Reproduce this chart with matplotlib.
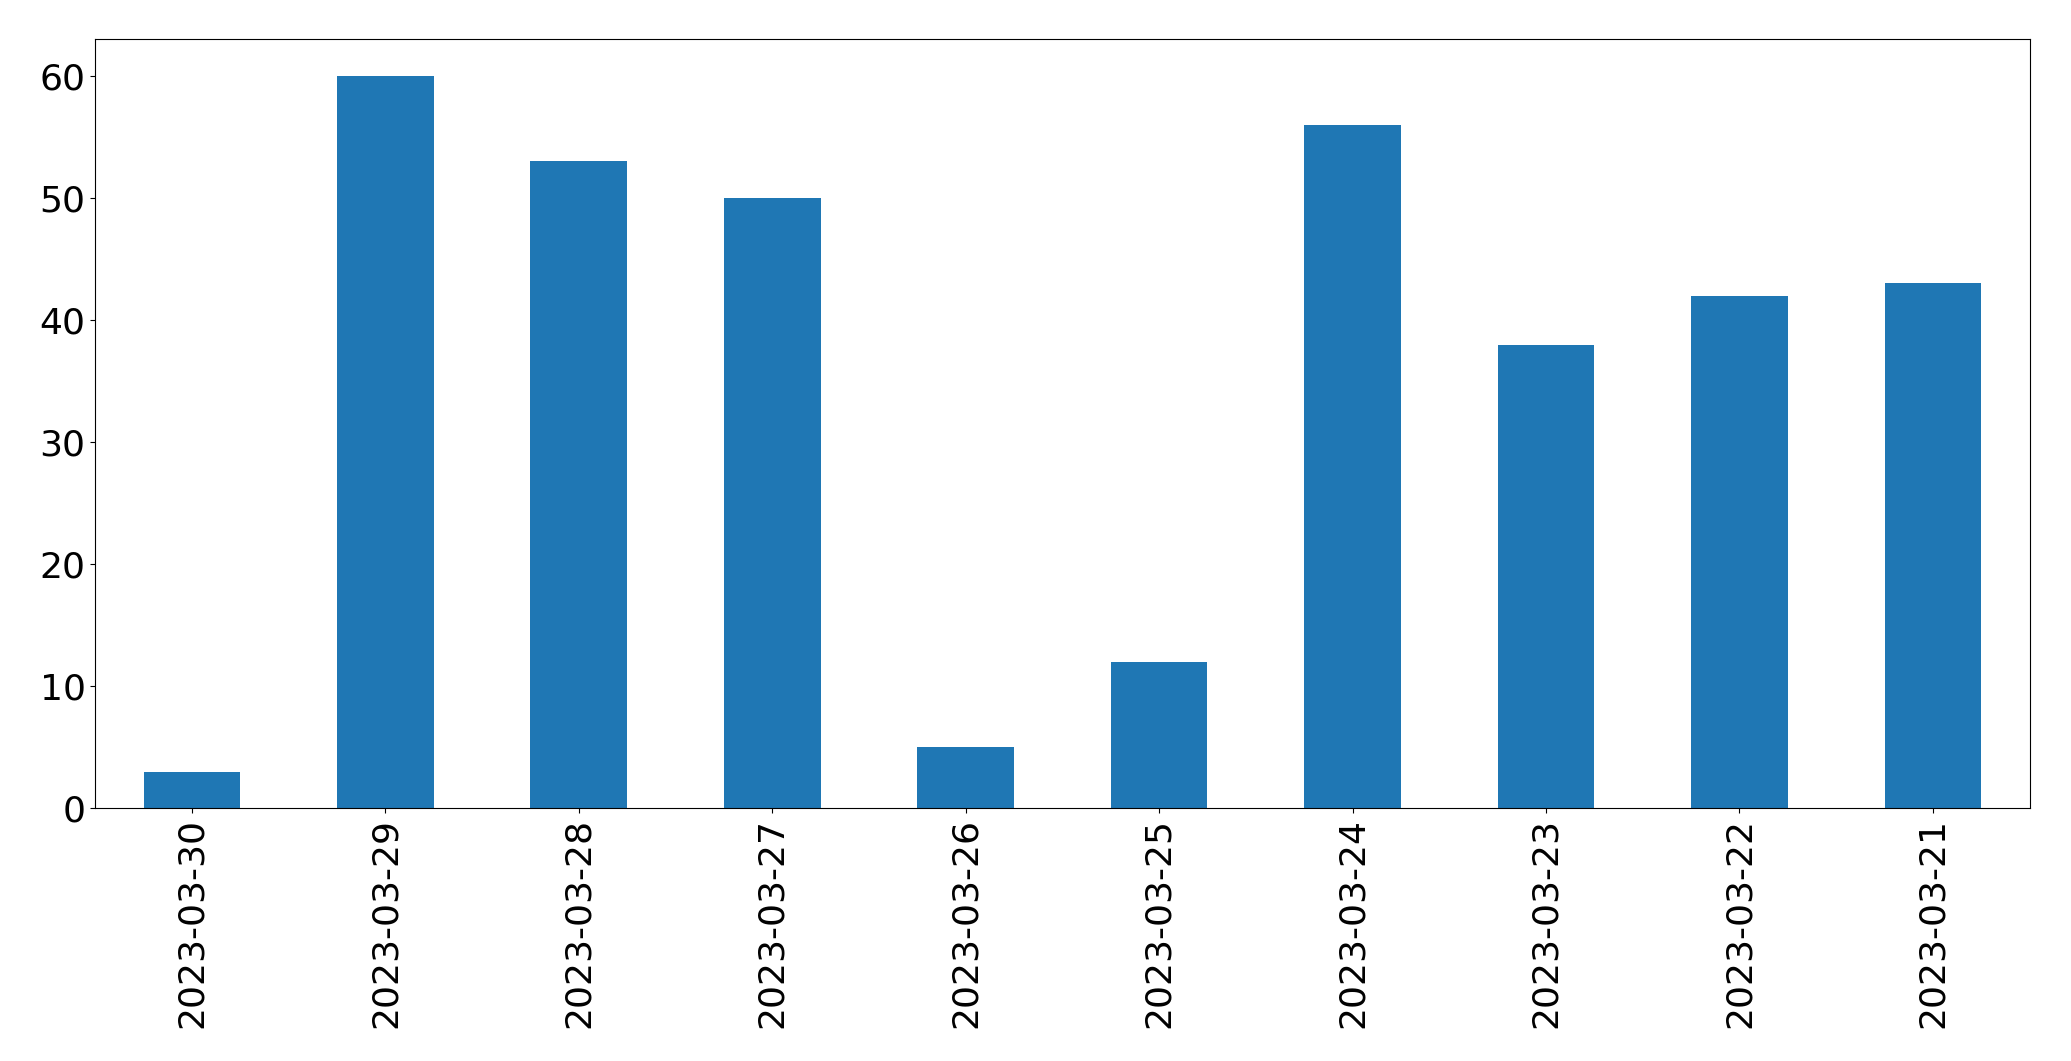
import matplotlib
matplotlib.use("Agg")
import matplotlib.pyplot as plt

dates = ["2023-03-30","2023-03-29","2023-03-28","2023-03-27","2023-03-26",
         "2023-03-25","2023-03-24","2023-03-23","2023-03-22","2023-03-21"]
counts = [3, 60, 53, 50, 5, 12, 56, 38, 42, 43]

fig = plt.figure(figsize=(20.71, 10.61), dpi=100)
ax = fig.add_axes([0.046, 0.238, 0.934, 0.725])
x = range(len(dates))
ax.bar(x, counts, width=0.5, color="#1f77b4")
ax.set_xticks(list(x))
ax.set_xticklabels(dates, rotation=90)
ax.set_xlim(-0.5, len(dates) - 0.5)
ax.set_ylim(0, 63)
ax.tick_params(labelsize=26)
fig.savefig("out.png", dpi=100)
